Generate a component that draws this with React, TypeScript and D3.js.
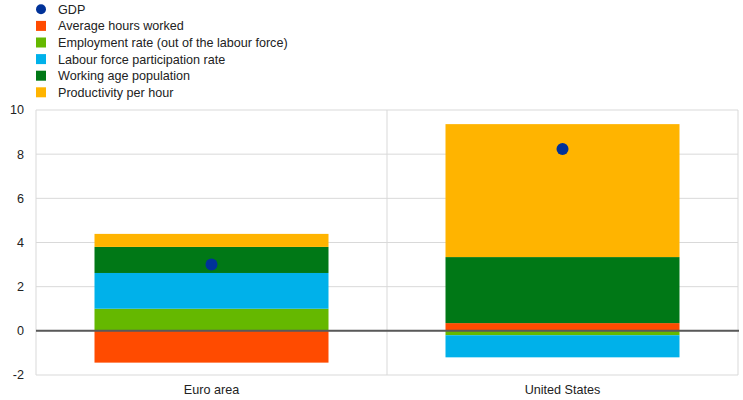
import React from "react";
import * as d3 from "d3";

const categories = ["Euro area", "United States"];
const seriesNames = [
  "Average hours worked",
  "Employment rate (out of the labour force)",
  "Labour force participation rate",
  "Working age population",
  "Productivity per hour",
];
const seriesColors = ["#FF4B00", "#65B800", "#00B1EA", "#007816", "#FFB400"];
const avgHours = [-1.44, 0.35];
const employment = [1.0, -0.2];
const participation = [1.62, -1.0];
const workingAge = [1.18, 2.99];
const productivity = [0.59, 6.02];
const gdp = [3.0, 8.23];
const yTicks = [-2, 0, 2, 4, 6, 8, 10];

const W = 743;
const H = 400;
const M = { left: 36, right: 5, top: 110, bottom: 25 };
const FS = 12.6;

export default function App() {
  const x = d3
    .scaleBand<string>()
    .domain(categories)
    .range([M.left, W - M.right])
    .paddingInner(0)
    .paddingOuter(0);
  const y = d3.scaleLinear().domain([-2, 10]).range([375, 110]);
  const valuesBySeries = [avgHours, employment, participation, workingAge, productivity];
  const rows = categories.map((c, i) => {
    const r: any = { cat: c };
    seriesNames.forEach((s, j) => (r[s] = valuesBySeries[j][i]));
    return r;
  });
  const stacked = d3
    .stack<any>()
    .keys(seriesNames)
    .offset(d3.stackOffsetDiverging)(rows);
  const bw = x.bandwidth();
  const barW = bw * (2 / 3);
  const legend = [
    { name: "GDP", color: "#003299", circle: true },
    ...seriesNames.map((s, j) => ({ name: s, color: seriesColors[j], circle: false })),
  ];
  const font = "'Liberation Sans', Arial, sans-serif";
  return (
    <svg
      width={W}
      height={H}
      style={{ position: "absolute", left: 0, top: 0, background: "#fff" }}
      fontFamily={font}
    >
      {yTicks.map((t) => (
        <line key={t} x1={M.left} x2={W - M.right} y1={y(t)} y2={y(t)} stroke="#d9d9d9" strokeWidth={1} />
      ))}
      {[M.left, x(categories[1])!, W - M.right].map((v, i) => (
        <line key={i} x1={v} x2={v} y1={y(10)} y2={y(-2)} stroke="#d9d9d9" strokeWidth={1} />
      ))}
      {yTicks.map((t) => (
        <text key={t} x={24} y={y(t)} dy="0.35em" textAnchor="end" fontSize={FS} fill="#222">
          {t}
        </text>
      ))}
      {stacked.map((layer, j) =>
        layer.map((d, i) => {
          const x0 = x(categories[i])! + (bw - barW) / 2;
          const top = y(Math.max(d[0], d[1]));
          const bot = y(Math.min(d[0], d[1]));
          return (
            <rect key={j + "-" + i} x={x0} y={top} width={barW} height={bot - top} fill={seriesColors[j]} />
          );
        })
      )}
      <line x1={M.left} x2={W - M.right + 1} y1={y(0)} y2={y(0)} stroke="#595959" strokeWidth={2} />
      {gdp.map((g, i) => (
        <circle key={i} cx={x(categories[i])! + bw / 2} cy={y(g)} r={6} fill="#003299" />
      ))}
      {categories.map((c) => (
        <text key={c} x={x(c)! + bw / 2} y={390} dy="0.35em" textAnchor="middle" fontSize={FS} fill="#222">
          {c}
        </text>
      ))}
      {legend.map((l, i) => {
        const cy = 9.3 + i * 16.6;
        return (
          <g key={l.name}>
            {l.circle ? (
              <circle cx={41} cy={cy} r={5} fill={l.color} />
            ) : (
              <rect x={36} y={cy - 5} width={10} height={10} fill={l.color} />
            )}
            <text x={58} y={cy} dy="0.35em" fontSize={FS} fill="#222">
              {l.name}
            </text>
          </g>
        );
      })}
    </svg>
  );
}
